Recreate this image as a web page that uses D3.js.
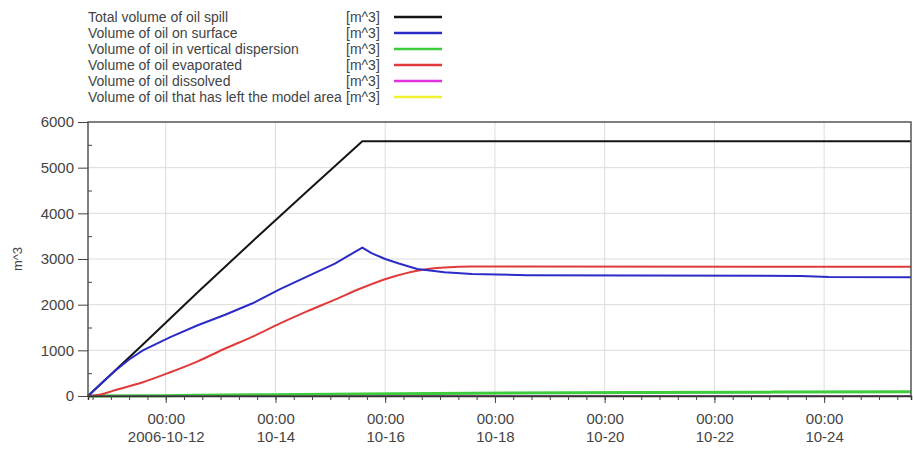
<!DOCTYPE html>
<html>
<head>
<meta charset="utf-8">
<script src="https://cdn.jsdelivr.net/npm/d3@7"></script>
<style>
  html, body { margin: 0; padding: 0; background: #fff; }
  svg { display: block; font-family: "Liberation Sans", Arial, sans-serif; }
</style>
</head>
<body>
<svg id="chart" width="913" height="451"></svg>
<script>
// Oil spill mass balance, volumes in m^3 over time
const seriesNames = [
  "Total volume of oil spill",
  "Volume of oil on surface",
  "Volume of oil in vertical dispersion",
  "Volume of oil evaporated",
  "Volume of oil dissolved",
  "Volume of oil that has left the model area"
];
const seriesUnit = "[m^3]";
const seriesColors = ["#151515", "#2b2bc8", "#3ccc3c", "#e03a3a", "#e030e0", "#f2f030"];

const totalSpill = [
  ["2006-10-10 14:00", 0], ["2006-10-11 14:00", 1130], ["2006-10-12 14:00", 2270],
  ["2006-10-13 14:00", 3390], ["2006-10-14 14:00", 4490], ["2006-10-15 14:00", 5580],
  ["2006-10-25 14:00", 5580]
];
const onSurface = [
  ["2006-10-10 14:00", 0], ["2006-10-10 20:00", 285], ["2006-10-11 02:00", 560],
  ["2006-10-11 08:00", 800], ["2006-10-11 14:00", 1000], ["2006-10-12 02:00", 1290],
  ["2006-10-12 14:00", 1550], ["2006-10-13 02:00", 1780], ["2006-10-13 14:00", 2030],
  ["2006-10-14 02:00", 2340], ["2006-10-14 14:00", 2620], ["2006-10-15 02:00", 2900],
  ["2006-10-15 14:00", 3250], ["2006-10-15 18:00", 3130], ["2006-10-16 00:00", 3000],
  ["2006-10-16 06:00", 2900], ["2006-10-16 14:00", 2780], ["2006-10-17 02:00", 2710],
  ["2006-10-17 14:00", 2670], ["2006-10-18 14:00", 2645], ["2006-10-20 14:00", 2640],
  ["2006-10-23 14:00", 2630], ["2006-10-24 02:00", 2605], ["2006-10-25 14:00", 2600]
];
const verticalDispersion = [
  ["2006-10-10 14:00", 0], ["2006-10-11 14:00", 5], ["2006-10-12 14:00", 15],
  ["2006-10-13 14:00", 25], ["2006-10-15 14:00", 45], ["2006-10-17 14:00", 60],
  ["2006-10-20 14:00", 75], ["2006-10-23 02:00", 85], ["2006-10-25 14:00", 95]
];
const evaporated = [
  ["2006-10-10 14:00", 0], ["2006-10-10 20:00", 40], ["2006-10-11 02:00", 130],
  ["2006-10-11 14:00", 300], ["2006-10-12 02:00", 520], ["2006-10-12 14:00", 760],
  ["2006-10-13 02:00", 1040], ["2006-10-13 14:00", 1300], ["2006-10-14 02:00", 1590],
  ["2006-10-14 14:00", 1860], ["2006-10-15 02:00", 2110], ["2006-10-15 14:00", 2370],
  ["2006-10-16 02:00", 2590], ["2006-10-16 14:00", 2745], ["2006-10-17 02:00", 2815],
  ["2006-10-17 14:00", 2835], ["2006-10-25 14:00", 2830]
];
const dissolved = [
  ["2006-10-10 14:00", 0], ["2006-10-25 14:00", 0]
];
const leftModelArea = [
  ["2006-10-10 14:00", 0], ["2006-10-25 14:00", 0]
];

const xDomain = ["2006-10-10 14:00", "2006-10-25 14:00"];
const xMajorTicks = ["2006-10-12 00:00", "2006-10-14 00:00", "2006-10-16 00:00",
  "2006-10-18 00:00", "2006-10-20 00:00", "2006-10-22 00:00", "2006-10-24 00:00"];
const xTimeLabels = ["00:00", "00:00", "00:00", "00:00", "00:00", "00:00", "00:00"];
const xDateLabels = ["2006-10-12", "10-14", "10-16", "10-18", "10-20", "10-22", "10-24"];
const yDomain = [0, 6000];
const yMajorTicks = [0, 1000, 2000, 3000, 4000, 5000, 6000];
const yMinorTicks = [500, 1500, 2500, 3500, 4500, 5500];
const yTitle = "m^3";

const parse = d3.timeParse("%Y-%m-%d %H:%M");
const svg = d3.select("#chart");
const plot = { left: 88, right: 911, top: 122, bottom: 396 };
const textColor = "#444";

const x = d3.scaleTime().domain(xDomain.map(parse)).range([plot.left, plot.right]);
const y = d3.scaleLinear().domain(yDomain).range([plot.bottom, plot.top]);

// grid
const grid = svg.append("g");
grid.selectAll("line.gx").data(xMajorTicks.map(parse)).join("line")
  .attr("x1", d => x(d)).attr("x2", d => x(d))
  .attr("y1", plot.top).attr("y2", plot.bottom)
  .attr("stroke", "#dcdcdc").attr("stroke-width", 1);
grid.selectAll("line.gy").data(yMajorTicks.slice(1, -1)).join("line")
  .attr("x1", plot.left).attr("x2", plot.right)
  .attr("y1", d => y(d)).attr("y2", d => y(d))
  .attr("stroke", "#dcdcdc").attr("stroke-width", 1);

// series lines (drawn bottom-up so the visible stack order is preserved)
const line = d3.line().x(d => x(parse(d[0]))).y(d => y(d[1]));
const smoothLine = d3.line().curve(d3.curveMonotoneX).x(d => x(parse(d[0]))).y(d => y(d[1]));
const allSeries = [totalSpill, onSurface, verticalDispersion, evaporated, dissolved, leftModelArea];
const drawOrder = [5, 4, 2, 0, 3, 1];
const lines = svg.append("g");
drawOrder.forEach(i => {
  lines.append("path").datum(allSeries[i])
    .attr("fill", "none")
    .attr("stroke", seriesColors[i])
    .attr("stroke-width", i === 2 ? 3 : 2)
    .attr("stroke-linejoin", "round")
    .attr("d", (i === 3 || i === 2) ? smoothLine : line);
});

// frame
svg.append("rect")
  .attr("x", plot.left).attr("y", plot.top)
  .attr("width", plot.right - plot.left).attr("height", plot.bottom - plot.top)
  .attr("fill", "none").attr("stroke", "#555").attr("stroke-width", 1.5);

// x axis: minor ticks every 8 hours, major ticks with two-line labels
const xAxisMinor = d3.axisBottom(x).ticks(d3.timeHour.every(8)).tickSize(4).tickFormat("");
const gxm = svg.append("g").attr("transform", `translate(0,${plot.bottom})`).call(xAxisMinor);
gxm.select(".domain").attr("stroke", "#333").attr("stroke-width", 1.5);
gxm.selectAll(".tick line").attr("stroke", "#444");

const xAxisMajor = d3.axisBottom(x).tickValues(xMajorTicks.map(parse)).tickSize(7).tickFormat("");
const gx = svg.append("g").attr("transform", `translate(0,${plot.bottom})`).call(xAxisMajor);
gx.select(".domain").remove();
gx.selectAll(".tick line").attr("stroke", "#444");
gx.selectAll(".tick").each(function (d, i) {
  const t = d3.select(this);
  t.append("text").attr("y", 28).attr("fill", textColor).attr("font-size", 15)
    .attr("text-anchor", "middle").text(xTimeLabels[i]);
  t.append("text").attr("y", 46).attr("fill", textColor).attr("font-size", 15)
    .attr("text-anchor", "middle").text(xDateLabels[i]);
});

// y axis
const yAxis = d3.axisLeft(y).tickValues(yMajorTicks).tickSize(10).tickPadding(4).tickFormat(d3.format("d"));
const gy = svg.append("g").attr("transform", `translate(${plot.left},0)`).call(yAxis);
gy.select(".domain").remove();
gy.selectAll(".tick line").attr("stroke", "#444");
gy.selectAll(".tick text").attr("fill", textColor).attr("font-size", 15)
  .attr("font-family", "\"Liberation Sans\", Arial, sans-serif");
const yAxisMinor = d3.axisRight(y).tickValues(yMinorTicks).tickSize(4).tickFormat("");
const gym = svg.append("g").attr("transform", `translate(${plot.left},0)`).call(yAxisMinor);
gym.select(".domain").remove();
gym.selectAll(".tick line").attr("stroke", "#444");

svg.append("text")
  .attr("transform", `translate(22,${(plot.top + plot.bottom) / 2}) rotate(-90)`)
  .attr("text-anchor", "middle").attr("fill", textColor).attr("font-size", 13)
  .text(yTitle);

// legend
const legend = svg.append("g").attr("transform", "translate(88,0)");
seriesNames.forEach((name, i) => {
  const yy = 17 + i * 16;
  legend.append("text").attr("x", 0).attr("y", yy + 5).attr("font-size", 14)
    .attr("fill", textColor).text(name);
  legend.append("text").attr("x", 258).attr("y", yy + 5).attr("font-size", 14)
    .attr("fill", textColor).text(seriesUnit);
  legend.append("line").attr("x1", 306).attr("x2", 354).attr("y1", yy).attr("y2", yy)
    .attr("stroke", seriesColors[i]).attr("stroke-width", 2.5);
});
</script>
</body>
</html>
